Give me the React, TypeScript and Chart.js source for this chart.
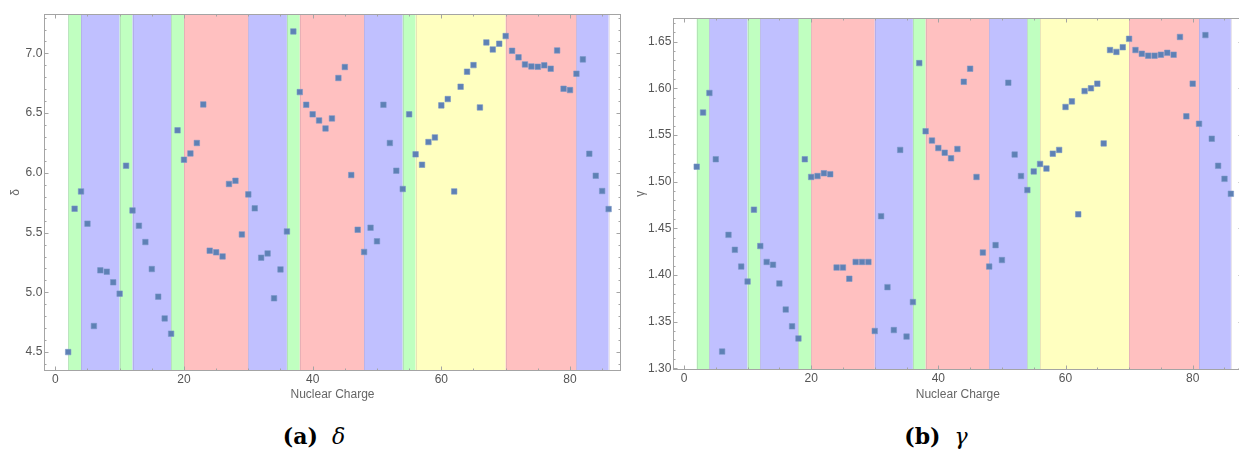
import React, { useEffect, useRef } from "react";
import { Chart, registerables } from "chart.js";

Chart.register(...registerables);

// Nuclear charge Z of each element plotted
const charges = [
  2, 3, 4, 5, 6, 7, 8, 9, 10, 11, 12, 13, 14, 15, 16, 17, 18, 19, 20, 21,
  22, 23, 24, 25, 26, 27, 28, 29, 30, 31, 32, 33, 34, 35, 36, 37, 38, 39, 40, 41,
  42, 43, 44, 45, 46, 47, 48, 49, 50, 51, 52, 53, 54, 55, 56, 57, 58, 59, 60, 61,
  62, 63, 64, 65, 66, 67, 68, 69, 70, 71, 72, 73, 74, 75, 76, 77, 78, 79, 80, 81,
  82, 83, 84, 85, 86,
];

// δ parameter per element
const deltaValues = [
  4.5, 5.7, 5.845, 5.575, 4.718, 5.184, 5.173, 5.084, 4.989, 6.06,
  5.686, 5.558, 5.421, 5.195, 4.964, 4.782, 4.654, 6.356, 6.11, 6.163,
  6.25, 6.573, 5.349, 5.335, 5.301, 5.907, 5.934, 5.485, 5.82, 5.703,
  5.29, 5.326, 4.95, 5.192, 5.51, 7.184, 6.676, 6.57, 6.49, 6.439,
  6.372, 6.456, 6.794, 6.886, 5.982, 5.524, 5.338, 5.541, 5.427, 6.57,
  6.25, 6.018, 5.865, 6.49, 6.155, 6.068, 6.258, 6.297, 6.565, 6.618,
  5.845, 6.721, 6.847, 6.902, 6.548, 7.092, 7.033, 7.081, 7.145, 7.022,
  6.967, 6.908, 6.891, 6.888, 6.9, 6.872, 7.025, 6.704, 6.693, 6.83,
  6.95, 6.16, 5.976, 5.848, 5.697,
];

// γ parameter per element
const gammaValues = [
  1.516, 1.574, 1.595, 1.524, 1.318, 1.443, 1.427, 1.409, 1.393, 1.47,
  1.431, 1.414, 1.411, 1.391, 1.363, 1.345, 1.332, 1.524, 1.505, 1.506,
  1.509, 1.508, 1.408, 1.408, 1.396, 1.414, 1.414, 1.414, 1.34, 1.463,
  1.387, 1.341, 1.534, 1.334, 1.371, 1.627, 1.554, 1.544, 1.536, 1.531,
  1.525, 1.535, 1.607, 1.621, 1.505, 1.424, 1.409, 1.432, 1.416, 1.606,
  1.529, 1.506, 1.491, 1.511, 1.519, 1.514, 1.53, 1.534, 1.58, 1.586,
  1.465, 1.597, 1.6, 1.605, 1.541, 1.641, 1.639, 1.644, 1.653, 1.641,
  1.637, 1.635, 1.635, 1.636, 1.638, 1.636, 1.655, 1.57, 1.605, 1.562,
  1.657, 1.546, 1.517, 1.503, 1.487,
];

// Periodic-table block shading along the charge axis
const bandStarts = [2, 4, 10, 12, 18, 20, 30, 36, 38, 48, 54, 56, 70, 81];
const bandEnds = [4, 10, 12, 18, 20, 30, 36, 38, 48, 54, 56, 70, 81, 86];
const bandBlocks = ["s", "p", "s", "p", "s", "d", "p", "s", "d", "p", "s", "f", "d", "p"];

const blockColors: Record<string, string> = {
  s: "#c0ffc0",
  p: "#c0c0ff",
  d: "#ffc0c0",
  f: "#ffffc0",
};

// Labelled ticks
const chargeTicks = [0, 20, 40, 60, 80];
const deltaTicks = [4.5, 5.0, 5.5, 6.0, 6.5, 7.0];
const gammaTicks = [1.3, 1.35, 1.4, 1.45, 1.5, 1.55, 1.6, 1.65];

const FONT = '"Liberation Sans", Arial, Helvetica, sans-serif';
const POINT_COLOR = "#5e81b5";

const bandsPlugin = {
  id: "blockBands",
  beforeDatasetsDraw(chart: any) {
    const { ctx, chartArea: a, scales } = chart;
    const x = scales.x;
    ctx.save();
    ctx.beginPath();
    ctx.rect(a.left, a.top, a.right - a.left, a.bottom - a.top);
    ctx.clip();
    bandStarts.forEach((s, i) => {
      const x0 = x.getPixelForValue(s);
      const x1 = x.getPixelForValue(bandEnds[i]);
      ctx.fillStyle = blockColors[bandBlocks[i]];
      ctx.fillRect(x0, a.top, x1 - x0, a.bottom - a.top);
    });
    ctx.strokeStyle = "rgba(110,90,130,0.16)";
    ctx.lineWidth = 1;
    const edges = new Set<number>([...bandStarts, ...bandEnds]);
    edges.forEach((v) => {
      const px = Math.round(x.getPixelForValue(v)) + 0.5;
      ctx.beginPath();
      ctx.moveTo(px, a.top);
      ctx.lineTo(px, a.bottom);
      ctx.stroke();
    });
    ctx.restore();
  },
};

const framePlugin = {
  id: "frameTicks",
  afterDraw(chart: any, _args: any, opts: any) {
    const { ctx, chartArea: a, scales } = chart;
    const x = scales.x;
    const y = scales.y;
    const L = Math.floor(a.left) + 0.5;
    const R = Math.floor(a.right) + 0.5;
    const T = Math.floor(a.top) + 0.5;
    const B = Math.floor(a.bottom) + 0.5;
    ctx.save();
    ctx.strokeStyle = "#a4a4a4";
    ctx.lineWidth = 1;
    ctx.strokeRect(L, T, R - L, B - T);

    const isMajor = (v: number, step: number) =>
      Math.abs(v / step - Math.round(v / step)) < 1e-6;

    // horizontal-axis ticks, bottom and top
    const xs = opts.xMinor;
    for (let k = Math.ceil(x.min / xs); k * xs <= x.max; k++) {
      const v = k * xs;
      const len = isMajor(v, opts.xMajor) ? 4 : 2;
      const px = Math.round(x.getPixelForValue(v)) + 0.5;
      ctx.beginPath();
      ctx.moveTo(px, B);
      ctx.lineTo(px, B - len);
      ctx.moveTo(px, T);
      ctx.lineTo(px, T + len);
      ctx.stroke();
    }
    // vertical-axis ticks, left and right
    const ys = opts.yMinor;
    for (let k = Math.ceil(y.min / ys - 1e-6); k * ys <= y.max + 1e-9; k++) {
      const v = k * ys;
      const len = isMajor(v, opts.yMajor) ? 4 : 2;
      const py = Math.round(y.getPixelForValue(v)) + 0.5;
      ctx.beginPath();
      ctx.moveTo(L, py);
      ctx.lineTo(L + len, py);
      ctx.moveTo(R, py);
      ctx.lineTo(R - len, py);
      ctx.stroke();
    }
    ctx.restore();
  },
};

type PanelSpec = {
  values: number[];
  yLabel: string;
  yTicks: number[];
  decimals: number;
  yMin: number;
  yMax: number;
  xMin: number;
  xMax: number;
  yMajor: number;
  yMinor: number;
  yAxisWidth: number;
  padTop: number;
  padRight: number;
  titleBottomPad: number;
};

function makeChart(canvas: HTMLCanvasElement, p: PanelSpec) {
  return new Chart(canvas, {
    type: "scatter",
    data: {
      datasets: [
        {
          data: charges.map((z, i) => ({ x: z, y: p.values[i] })),
          pointStyle: "rect",
          pointRadius: 3.9,
          pointHoverRadius: 3.9,
          backgroundColor: POINT_COLOR,
          borderColor: "rgba(120,150,200,0.55)",
          borderWidth: 1,
        },
      ],
    },
    options: {
      animation: false,
      responsive: false,
      maintainAspectRatio: false,
      events: [],
      layout: { padding: { top: p.padTop, right: p.padRight, bottom: 0, left: 0 } },
      plugins: {
        legend: { display: false },
        tooltip: { enabled: false },
        frameTicks: { xMajor: 20, xMinor: 5, yMajor: p.yMajor, yMinor: p.yMinor },
      } as any,
      scales: {
        x: {
          type: "linear",
          min: p.xMin,
          max: p.xMax,
          afterBuildTicks: (s: any) => {
            s.ticks = chargeTicks.map((v) => ({ value: v }));
          },
          afterFit: (s: any) => {
            s.height = 35;
          },
          grid: { display: false, drawTicks: false },
          border: { display: false },
          ticks: {
            autoSkip: false,
            maxRotation: 0,
            padding: 2,
            color: "#555",
            font: { family: FONT, size: 12 },
            callback: (v: any) => String(v),
          },
          title: {
            display: true,
            text: "Nuclear Charge",
            color: "#666",
            font: { family: FONT, size: 12 },
            padding: { top: 0, bottom: p.titleBottomPad },
          },
        },
        y: {
          type: "linear",
          min: p.yMin,
          max: p.yMax,
          afterBuildTicks: (s: any) => {
            s.ticks = p.yTicks.map((v) => ({ value: v }));
          },
          afterFit: (s: any) => {
            s.width = p.yAxisWidth;
          },
          grid: { display: false, drawTicks: false },
          border: { display: false },
          ticks: {
            autoSkip: false,
            padding: 2,
            color: "#555",
            font: { family: FONT, size: 12 },
            callback: (v: any) => Number(v).toFixed(p.decimals),
          },
          title: {
            display: true,
            text: p.yLabel,
            color: "#666",
            font: { family: FONT, size: 12 },
            padding: { top: 8, bottom: 0 },
          },
        },
      },
    },
    plugins: [bandsPlugin, framePlugin],
  } as any);
}

export default function App() {
  const deltaRef = useRef<HTMLCanvasElement>(null);
  const gammaRef = useRef<HTMLCanvasElement>(null);

  useEffect(() => {
    const charts: Chart[] = [];
    if (deltaRef.current) {
      charts.push(
        makeChart(deltaRef.current, {
          values: deltaValues,
          yLabel: "δ",
          yTicks: deltaTicks,
          decimals: 1,
          yMin: 4.35,
          yMax: 7.324,
          xMin: -1.71,
          xMax: 87.88,
          yMajor: 0.5,
          yMinor: 0.1,
          yAxisWidth: 44.3,
          padTop: 14.7,
          padRight: 7.3,
          titleBottomPad: 2.8,
        })
      );
    }
    if (gammaRef.current) {
      charts.push(
        makeChart(gammaRef.current, {
          values: gammaValues,
          yLabel: "γ",
          yTicks: gammaTicks,
          decimals: 2,
          yMin: 1.2993,
          yMax: 1.675,
          xMin: -1.68,
          xMax: 87.8,
          yMajor: 0.05,
          yMinor: 0.01,
          yAxisWidth: 48.3,
          padTop: 18.3,
          padRight: 7.7,
          titleBottomPad: 1.8,
        })
      );
    }
    return () => charts.forEach((c) => c.destroy());
  }, []);

  const captionStyle: React.CSSProperties = {
    position: "absolute",
    top: 423,
    width: 200,
    textAlign: "center",
    fontFamily: '"DejaVu Serif", "Liberation Serif", serif',
    fontSize: 22,
    lineHeight: "26px",
    color: "#000",
    whiteSpace: "nowrap",
  };

  return (
    <div
      style={{
        position: "fixed",
        left: 0,
        top: 0,
        width: 1239,
        height: 451,
        overflow: "hidden",
        background: "#fff",
      }}
    >
      <canvas
        ref={deltaRef}
        width={628}
        height={405}
        style={{ position: "absolute", left: 0, top: 0 }}
      />
      <canvas
        ref={gammaRef}
        width={625}
        height={404}
        style={{ position: "absolute", left: 625, top: 0 }}
      />
      <div style={{ ...captionStyle, left: 214 }}>
        <span style={{ fontWeight: "bold" }}>(a)</span>
        <span style={{ fontStyle: "italic", marginLeft: 14 }}>δ</span>
      </div>
      <div style={{ ...captionStyle, left: 836 }}>
        <span style={{ fontWeight: "bold" }}>(b)</span>
        <span style={{ fontStyle: "italic", marginLeft: 14 }}>γ</span>
      </div>
    </div>
  );
}
